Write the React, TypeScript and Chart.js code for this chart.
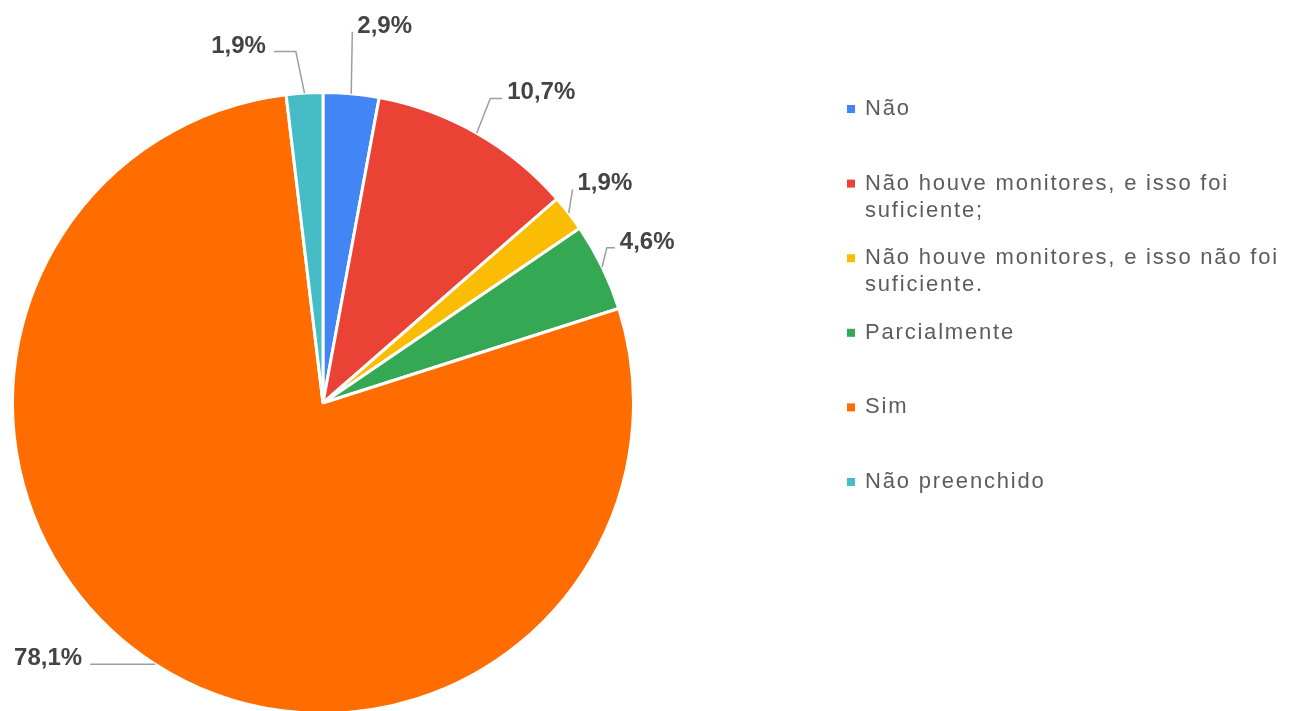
import React, { useEffect, useRef } from 'react';
import { Chart, registerables } from 'chart.js';

Chart.register(...registerables);

const categories = [
  'Não',
  'Não houve monitores, e isso foi suficiente;',
  'Não houve monitores, e isso não foi suficiente.',
  'Parcialmente',
  'Sim',
  'Não preenchido',
];
const legendLines = [
  ['Não'],
  ['Não houve monitores, e isso foi', 'suficiente;'],
  ['Não houve monitores, e isso não foi', 'suficiente.'],
  ['Parcialmente'],
  ['Sim'],
  ['Não preenchido'],
];
const values = [2.9, 10.7, 1.9, 4.6, 78.1, 1.9];
const colors = ['#4285F4', '#EA4335', '#FBBC04', '#34A853', '#FF6D01', '#46BDC6'];

// label leader layout (extra radius, angular nudge in degrees, horizontal tail)
const leaderLift = [62, 37, 18, 13, 0, 42];
const leaderNudge = [-0.7, -0.9, -2.9, -2.7, 0, -1];
const leaderTail = [0, 12, 0, 8, 65, 22];

const fmt = (v: number) => v.toFixed(1).replace('.', ',') + '%';

const labelPlugin = {
  id: 'pieLabels',
  afterDatasetsDraw(chart: any) {
    const ctx = chart.ctx as CanvasRenderingContext2D;
    const meta = chart.getDatasetMeta(0);
    ctx.save();
    meta.data.forEach((arc: any, i: number) => {
      const { x, y, startAngle, endAngle, outerRadius } = arc.getProps(
        ['x', 'y', 'startAngle', 'endAngle', 'outerRadius'],
        true
      );
      const mid = (startAngle + endAngle) / 2;
      const a2 = mid + (leaderNudge[i] * Math.PI) / 180;
      const p0x = x + Math.cos(mid) * outerRadius;
      const p0y = y + Math.sin(mid) * outerRadius;
      const R = outerRadius + leaderLift[i];
      const p1x = x + Math.cos(a2) * R;
      const p1y = y + Math.sin(a2) * R;
      const right = Math.cos(mid) >= 0;
      const p2x = p1x + (right ? 1 : -1) * leaderTail[i];
      ctx.beginPath();
      ctx.strokeStyle = '#9e9e9e';
      ctx.lineWidth = 1.5;
      ctx.moveTo(p0x, p0y);
      ctx.lineTo(p1x, p1y);
      ctx.lineTo(p2x, p1y);
      ctx.stroke();
      ctx.font = 'bold 24px "Liberation Sans", Arial, sans-serif';
      ctx.fillStyle = '#444444';
      ctx.textBaseline = 'alphabetic';
      ctx.textAlign = right ? 'left' : 'right';
      ctx.fillText(fmt(values[i]), p2x + (right ? 5 : -8), p1y + 1);
    });
    ctx.restore();
  },
  afterDraw(chart: any) {
    const ctx = chart.ctx as CanvasRenderingContext2D;
    ctx.save();
    ctx.font = '22px "Liberation Sans", Arial, sans-serif';
    (ctx as any).letterSpacing = '1.8px';
    ctx.textBaseline = 'middle';
    ctx.textAlign = 'left';
    const x0 = 847;
    const y0 = 109;
    const step = 74.6;
    legendLines.forEach((lines, i) => {
      const yy = y0 + i * step;
      ctx.fillStyle = colors[i];
      ctx.fillRect(x0, yy - 4, 8, 8);
      ctx.fillStyle = '#5c5c5c';
      lines.forEach((t, j) => {
        ctx.fillText(t, x0 + 18, yy + j * 27);
      });
    });
    ctx.restore();
  },
};

export default function App() {
  const ref = useRef<HTMLCanvasElement>(null);
  useEffect(() => {
    if (!ref.current) return;
    const chart = new Chart(ref.current, {
      type: 'pie',
      data: {
        labels: categories,
        datasets: [
          {
            data: values,
            backgroundColor: colors,
            borderColor: '#ffffff',
            borderWidth: 3,
          },
        ],
      },
      options: {
        responsive: false,
        animation: false,
        layout: { padding: { left: 11, top: 91, right: 662, bottom: 5 } },
        plugins: {
          legend: { display: false },
          tooltip: { enabled: false },
          title: { display: false },
        },
      },
      plugins: [labelPlugin],
    });
    return () => chart.destroy();
  }, []);
  return (
    <div
      style={{
        position: 'absolute',
        left: 0,
        top: 0,
        width: 1297,
        height: 711,
        overflow: 'hidden',
        background: '#ffffff',
      }}
    >
      <canvas ref={ref} width={1297} height={720} style={{ display: 'block' }} />
    </div>
  );
}
